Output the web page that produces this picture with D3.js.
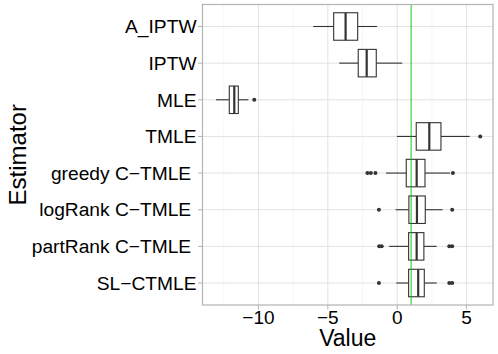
<!DOCTYPE html>
<html>
<head>
<meta charset="utf-8">
<script src="https://cdn.jsdelivr.net/npm/d3@7"></script>
<style>
  body { margin: 0; background: #fff; }
  text { font-family: "Liberation Sans", Arial, sans-serif; }
</style>
</head>
<body>
<svg id="chart" width="498" height="354"></svg>
<script>
// estimator names (some carry a trailing space, as in the original labels)
const estimators = ["A_IPTW", "IPTW", "MLE", "TMLE", "greedy C\u2212TMLE ",
  "logRank C\u2212TMLE ", "partRank C\u2212TMLE ", "SL\u2212CTMLE"];
// box statistics
const lower  = [-6.05, -4.18, -13.06, -0.02, -0.81, -0.12, -0.58, -0.07];
const q1     = [-4.58, -2.81, -12.1, 1.37, 0.65, 0.84, 0.82, 0.82];
const median = [-3.72, -2.2, -11.74, 2.31, 1.4, 1.42, 1.4, 1.51];
const q3     = [-2.85, -1.51, -11.45, 3.15, 2.0, 2.02, 1.92, 1.95];
const upper  = [-1.46, 0.36, -10.73, 5.22, 3.8, 3.27, 2.84, 2.84];
const outliers = [[], [], [-10.3], [5.98], [-2.15, -1.9, -1.57, 4.01],
  [-1.32, 3.96], [-1.3, -1.12, 3.75, 3.96], [-1.32, 3.75, 3.96]];
const xTicks = [-10, -5, 0, 5];
const xMinor = [-12.5, -7.5, -2.5, 2.5];
const trueValue = 1;

const svg = d3.select("#chart");
const pLeft = 202.5, pRight = 493, pTop = 4.5, pBottom = 305;

const x = d3.scaleLinear().domain([-14.03, 6.9]).range([pLeft, pRight]);
const y = d3.scalePoint().domain(estimators).range([pTop, pBottom]).padding(0.6);
const boxH = y.step() * 0.75;

// grid
const grid = svg.append("g");
grid.selectAll("line.minor").data(xMinor).join("line")
  .attr("x1", d => x(d)).attr("x2", d => x(d))
  .attr("y1", pTop).attr("y2", pBottom)
  .attr("stroke", "#ececec").attr("stroke-width", 0.5);
grid.selectAll("line.major").data(xTicks).join("line")
  .attr("x1", d => x(d)).attr("x2", d => x(d))
  .attr("y1", pTop).attr("y2", pBottom)
  .attr("stroke", "#e2e2e2").attr("stroke-width", 1);
grid.selectAll("line.hmajor").data(estimators).join("line")
  .attr("x1", pLeft).attr("x2", pRight)
  .attr("y1", d => y(d)).attr("y2", d => y(d))
  .attr("stroke", "#e2e2e2").attr("stroke-width", 1);

// boxes
const box = svg.append("g").attr("stroke", "#333").attr("fill", "#fff");
estimators.forEach((e, i) => {
  const cy = y(e);
  box.append("line")
    .attr("x1", x(lower[i])).attr("x2", x(q1[i]))
    .attr("y1", cy).attr("y2", cy).attr("stroke-width", 1.1);
  box.append("line")
    .attr("x1", x(q3[i])).attr("x2", x(upper[i]))
    .attr("y1", cy).attr("y2", cy).attr("stroke-width", 1.1);
  box.append("rect")
    .attr("x", x(q1[i])).attr("width", x(q3[i]) - x(q1[i]))
    .attr("y", cy - boxH / 2).attr("height", boxH)
    .attr("stroke-width", 1.1);
  box.append("line")
    .attr("x1", x(median[i])).attr("x2", x(median[i]))
    .attr("y1", cy - boxH / 2).attr("y2", cy + boxH / 2)
    .attr("stroke-width", 2.2);
  box.selectAll(null).data(outliers[i]).join("circle")
    .attr("cx", d => x(d)).attr("cy", cy).attr("r", 2)
    .attr("fill", "#333").attr("stroke", "none");
});

// reference line at the true value
svg.append("line")
  .attr("x1", x(trueValue)).attr("x2", x(trueValue))
  .attr("y1", pTop).attr("y2", pBottom)
  .attr("stroke", "#00c000").attr("stroke-width", 0.9);

// panel border
svg.append("rect")
  .attr("x", pLeft).attr("y", pTop)
  .attr("width", pRight - pLeft).attr("height", pBottom - pTop)
  .attr("fill", "none").attr("stroke", "#b3b3b3").attr("stroke-width", 1.2);

// axes
const yAxis = svg.append("g");
yAxis.selectAll("line").data(estimators).join("line")
  .attr("x1", pLeft - 4.5).attr("x2", pLeft)
  .attr("y1", d => y(d)).attr("y2", d => y(d))
  .attr("stroke", "#b3b3b3");
yAxis.selectAll("text").data(estimators).join("text")
  .attr("x", pLeft - 6).attr("y", d => y(d)).attr("dy", "0.35em")
  .attr("text-anchor", "end").attr("font-size", 19.2)
  .style("white-space", "pre")
  .text(d => d);

const xAxis = svg.append("g");
xAxis.selectAll("line").data(xTicks).join("line")
  .attr("x1", d => x(d)).attr("x2", d => x(d))
  .attr("y1", pBottom).attr("y2", pBottom + 4.5)
  .attr("stroke", "#b3b3b3");
xAxis.selectAll("text").data(xTicks).join("text")
  .attr("x", d => x(d)).attr("y", 323.5)
  .attr("text-anchor", "middle").attr("font-size", 19)
  .text(d => d < 0 ? "\u2212" + Math.abs(d) : d);

svg.append("text")
  .attr("x", (pLeft + pRight) / 2).attr("y", 345.5)
  .attr("text-anchor", "middle").attr("font-size", 23)
  .text("Value");
svg.append("text")
  .attr("transform", `translate(26,${(pTop + pBottom) / 2}) rotate(-90)`)
  .attr("text-anchor", "middle").attr("font-size", 24)
  .text("Estimator");
</script>
</body>
</html>
